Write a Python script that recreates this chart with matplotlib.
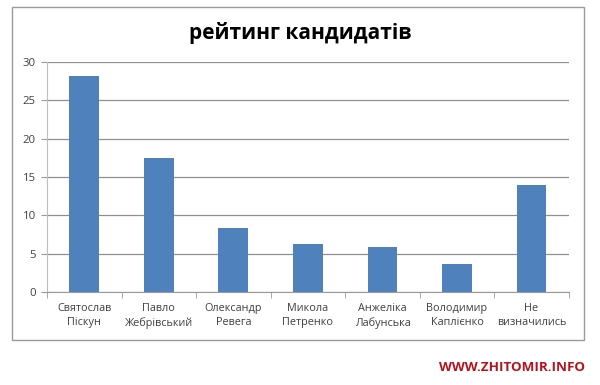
import numpy as np
import matplotlib.pyplot as plt
from matplotlib.patches import Rectangle

# data
names = ["Святослав\nПіскун", "Павло\nЖебрівський", "Олександр\nРевега",
         "Микола\nПетренко", "Анжеліка\nЛабунська", "Володимир\nКаплієнко",
         "Не\nвизначились"]
rating = [28.2, 17.5, 8.3, 6.2, 5.9, 3.6, 14.0]
yticks = [0, 5, 10, 15, 20, 25, 30]

plt.rcParams['font.family'] = ['Open Sans', 'DejaVu Sans']

fig = plt.figure(figsize=(6, 3.85), dpi=100)
fig.patch.set_facecolor("white")

# outer chart frame
fig.patches.append(Rectangle((0.02, 0.117), 0.953, 0.865, transform=fig.transFigure,
                             fill=False, edgecolor="#9a9a9a", linewidth=1.0))

ax = fig.add_axes([0.0783, 0.2416, 0.8697, 0.5974])
x = np.arange(len(names))
ax.bar(x, rating, width=0.4, color="#4f81bd", zorder=3)

ax.set_xlim(-0.5, len(names) - 0.5)
ax.set_ylim(0, 30)
ax.set_yticks(yticks)
ax.yaxis.grid(True, color="#909090", linewidth=0.9, zorder=0)
ax.set_axisbelow(True)

for s in ["top", "right"]:
    ax.spines[s].set_visible(False)
ax.spines["left"].set_color("#bdbdbd")
ax.spines["bottom"].set_color("#9a9a9a")

ax.set_xticks(x)
ax.set_xticklabels(names, fontsize=7.8, color="#404040", linespacing=1.4)
ax.tick_params(axis="x", length=0, pad=8)
ax.set_xticks(np.arange(-0.5, len(names)), minor=True)
ax.tick_params(axis="x", which="minor", length=4, color="#9a9a9a")
ax.tick_params(axis="y", length=4, color="#9a9a9a", labelsize=8.2, labelcolor="#404040", pad=4)

fig.text(0.5, 0.915, "рейтинг кандидатів", ha="center", va="center",
         fontsize=15, fontweight="bold", color="black")

fig.text(0.975, 0.045, "WWW.ZHITOMIR.INFO", ha="right", va="center",
         fontsize=9.6, fontweight="bold", color="#b5121b")

fig.savefig("out.png", dpi=100)
